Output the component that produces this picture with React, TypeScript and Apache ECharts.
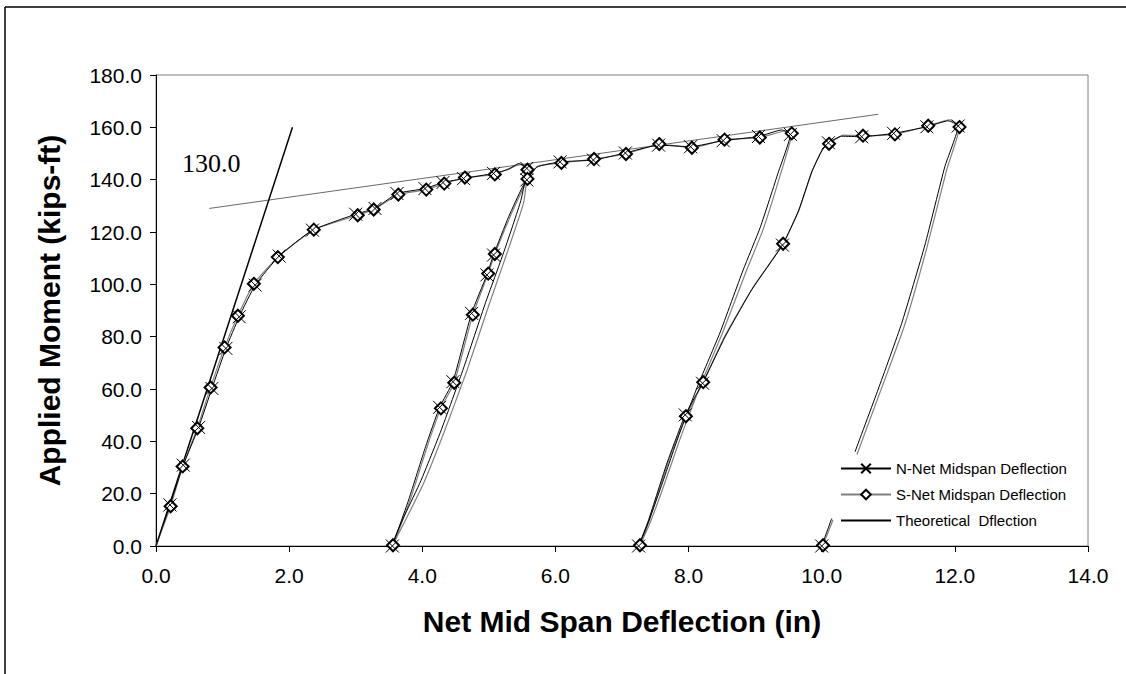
import React, { useEffect, useRef } from "react";
import * as echarts from "echarts";

// N-Net midspan deflection (in), applied moment (kips-ft), marker flag
const nDefl = [0, 0.21, 0.41, 0.64, 0.84, 1.05, 1.25, 1.49, 1.85, 2.35, 3.0, 3.29, 3.62, 4.04, 4.31, 4.62, 5.07, 5.3, 5.45, 5.57,
  5.48, 5.22, 4.95, 4.62, 4.28, 3.98, 3.74, 3.6, 3.55,
  3.62, 3.8, 4.05, 4.26, 4.46, 4.74, 4.97, 5.07, 5.3, 5.5, 5.57, 5.72, 6.07, 6.57, 7.05, 7.55, 8.03, 8.52, 9.05, 9.4, 9.53,
  9.35, 9.08, 8.82, 8.47, 8.15, 7.85, 7.57, 7.38, 7.25,
  7.4, 7.68, 7.95, 8.21, 8.55, 8.95, 9.41, 9.65, 9.85, 10.0, 10.1, 10.3, 10.6, 11.08, 11.58, 11.9, 12.05,
  11.85, 11.55, 11.2, 10.85, 10.5, 10.3, 10.15, 10.0];
const nMoment = [0, 15.7, 30.9, 45.3, 60.2, 75.5, 87.6, 99.7, 110.8, 120.7, 126.8, 129.0, 134.7, 136.6, 138.9, 140.4, 142.4, 144.0, 146.2, 144.3,
  132, 112, 93, 68, 44, 25, 12, 4, 0,
  5, 18, 38, 53.0, 62.8, 88.9, 103.6, 111.2, 126, 137, 139.9, 144.8, 146.8, 147.5, 150.2, 153.2, 152.6, 154.9, 156.5, 159.0, 157.3,
  143, 122, 105.5, 81.4, 62, 42, 21.4, 8, 0,
  10, 32, 50.1, 62.2, 80, 98, 115.0, 128, 143, 151, 154.1, 156.6, 156.4, 157.7, 160.2, 162.5, 160.5,
  145, 115, 85, 60, 36, null, 10.5, 0];
const nMarked = [0, 1, 1, 1, 1, 1, 1, 1, 1, 1, 1, 1, 1, 1, 1, 1, 1, 0, 0, 1,
  0, 0, 0, 0, 0, 0, 0, 0, 1,
  0, 0, 0, 1, 1, 1, 1, 1, 0, 0, 1, 0, 1, 1, 1, 1, 1, 1, 1, 0, 1,
  0, 0, 0, 0, 0, 0, 0, 0, 1,
  0, 0, 1, 1, 0, 0, 1, 0, 0, 0, 1, 0, 1, 1, 1, 0, 1,
  0, 0, 0, 0, 0, 0, 0, 1];

// S-Net midspan deflection
const sDefl = [0, 0.22, 0.4, 0.62, 0.82, 1.03, 1.23, 1.47, 1.83, 2.37, 3.03, 3.27, 3.64, 4.06, 4.33, 4.64, 5.09, 5.32, 5.47, 5.58,
  5.52, 5.26, 5.0, 4.67, 4.32, 4.02, 3.77, 3.62, 3.56,
  3.64, 3.83, 4.08, 4.28, 4.48, 4.76, 4.99, 5.09, 5.33, 5.53, 5.58, 5.74, 6.09, 6.58, 7.06, 7.56, 8.05, 8.54, 9.07, 9.45, 9.55,
  9.38, 9.12, 8.86, 8.5, 8.18, 7.88, 7.6, 7.4, 7.27,
  7.42, 7.7, 7.96, 8.22, 8.55, 8.96, 9.42, 9.66, 9.86, 10.01, 10.11, 10.32, 10.62, 11.1, 11.6, 11.92, 12.07,
  11.88, 11.58, 11.24, 10.88, 10.53, 10.3, 10.17, 10.02];
const sMoment = [0, 15.2, 30.4, 45.0, 60.6, 75.9, 88.0, 100.2, 110.4, 120.9, 126.4, 128.6, 134.3, 136.2, 138.5, 140.8, 142.0, 144.4, 145.8, 143.8,
  131, 111, 92, 67, 43, 24, 11, 3.5, 0.3,
  5.5, 18.5, 38.5, 52.6, 62.4, 88.4, 104.1, 111.6, 126.5, 137.5, 140.3, 145.2, 146.4, 147.9, 149.8, 153.6, 152.2, 155.3, 156.1, 158.6, 157.7,
  142, 121, 104.6, 80.8, 61.5, 41.5, 21.0, 7.5, 0.3,
  10.5, 32.5, 49.6, 62.6, 80.5, 98.5, 115.5, 128.5, 143.5, 151.5, 153.7, 157.0, 156.8, 157.3, 160.6, 162.9, 160.1,
  144, 114, 84, 59, 35, null, 10.0, 0.3];
const sMarked = nMarked;

// Theoretical deflection line
const theoDefl = [0, 2.05];
const theoMoment = [0, 160];

// Post-yield reference line
const refDefl = [0.8, 10.85];
const refMoment = [129.0, 165.0];

const xTicks = { min: 0, max: 14, interval: 2 };
const yTicks = { min: 0, max: 180, interval: 20 };

const FONT = "'Liberation Sans', Arial, sans-serif";
const X_SYMBOL = "path://M0,0L10,10M10,0L0,10";

function buildData(xs: number[], ys: (number | null)[], marks: number[]) {
  return xs.map((x, i) => {
    const y = ys[i];
    const item: any = { value: [x, y === null ? "-" : y] };
    if (!marks[i]) item.symbol = "none";
    return item;
  });
}

export default function App() {
  const ref = useRef<HTMLDivElement>(null);
  useEffect(() => {
    if (!ref.current) return;
    const chart = echarts.init(ref.current, null, { renderer: "svg" });
    const axisCommon = {
      type: "value" as const,
      nameLocation: "middle" as const,
      nameTextStyle: { fontFamily: FONT, fontWeight: "bold", fontSize: 30, color: "#000" },
      axisLine: { show: true, onZero: false, lineStyle: { color: "#000", width: 1 } },
      axisTick: { show: true, inside: false, length: 6, lineStyle: { color: "#000", width: 1 } },
      splitLine: { show: false },
    };
    chart.setOption({
      animation: false,
      backgroundColor: "#fff",
      grid: { left: 156, right: 38, top: 75, bottom: 128, show: true, borderColor: "#808080", borderWidth: 1 },
      xAxis: {
        ...axisCommon,
        ...xTicks,
        name: "Net Mid Span Deflection (in)",
        nameGap: 60,
        axisLabel: { formatter: (v: number) => v.toFixed(1), fontFamily: FONT, fontSize: 21, color: "#000", margin: 19 },
      },
      yAxis: {
        ...axisCommon,
        ...yTicks,
        name: "Applied Moment (kips-ft)",
        nameGap: 92,
        nameRotate: 90,
        axisLabel: { formatter: (v: number) => v.toFixed(1), fontFamily: FONT, fontSize: 21, color: "#000", margin: 14 },
      },
      legend: {
        orient: "vertical",
        left: 840,
        top: 461,
        padding: 0,
        itemWidth: 50,
        itemHeight: 12,
        itemGap: 11,
        textStyle: { fontFamily: FONT, fontSize: 15, color: "#000" },
        data: [
          "N-Net Midspan Deflection",
          "S-Net Midspan Deflection",
          { name: "Theoretical  Dflection", itemStyle: { color: "rgba(0,0,0,0)", borderColor: "rgba(0,0,0,0)", borderWidth: 0 } },
        ],
      },
      graphic: [
        { type: "line", shape: { x1: 5, y1: 7, x2: 1126, y2: 7 }, style: { stroke: "#000", lineWidth: 1.5 } },
        { type: "line", shape: { x1: 5, y1: 7, x2: 5, y2: 674 }, style: { stroke: "#000", lineWidth: 1.5 } },
        {
          type: "text",
          left: 182,
          top: 150,
          style: { text: "130.0", fontFamily: "'Liberation Serif', 'Times New Roman', serif", fontSize: 26, fill: "#000" },
        },
      ],
      series: [
        {
          name: "Post-yield line",
          type: "line",
          data: refDefl.map((x, i) => [x, refMoment[i]]),
          symbol: "none",
          lineStyle: { color: "#6a6a6a", width: 1 },
          silent: true,
        },
        {
          name: "Theoretical  Dflection",
          type: "line",
          data: theoDefl.map((x, i) => [x, theoMoment[i]]),
          symbol: "none",
          itemStyle: { color: "rgba(0,0,0,0)" },
          lineStyle: { color: "#000", width: 1.5 },
        },
        {
          name: "S-Net Midspan Deflection",
          type: "line",
          data: buildData(sDefl, sMoment, sMarked),
          symbol: "emptyDiamond",
          symbolSize: 12,
          showAllSymbol: true,
          connectNulls: false,
          smooth: 0.15,
          itemStyle: { color: "#000", borderColor: "#000", borderWidth: 1 },
          lineStyle: { color: "#808080", width: 1.2 },
        },
        {
          name: "N-Net Midspan Deflection",
          type: "line",
          data: buildData(nDefl, nMoment, nMarked),
          symbol: X_SYMBOL,
          symbolSize: 13,
          showAllSymbol: true,
          connectNulls: false,
          smooth: 0.15,
          itemStyle: { color: "#000", borderColor: "#000", borderWidth: 1 },
          lineStyle: { color: "#000", width: 1 },
        },
      ],
    });
    return () => chart.dispose();
  }, []);
  return <div ref={ref} style={{ width: 1126, height: 674, position: "absolute", left: 0, top: 0 }} />;
}
